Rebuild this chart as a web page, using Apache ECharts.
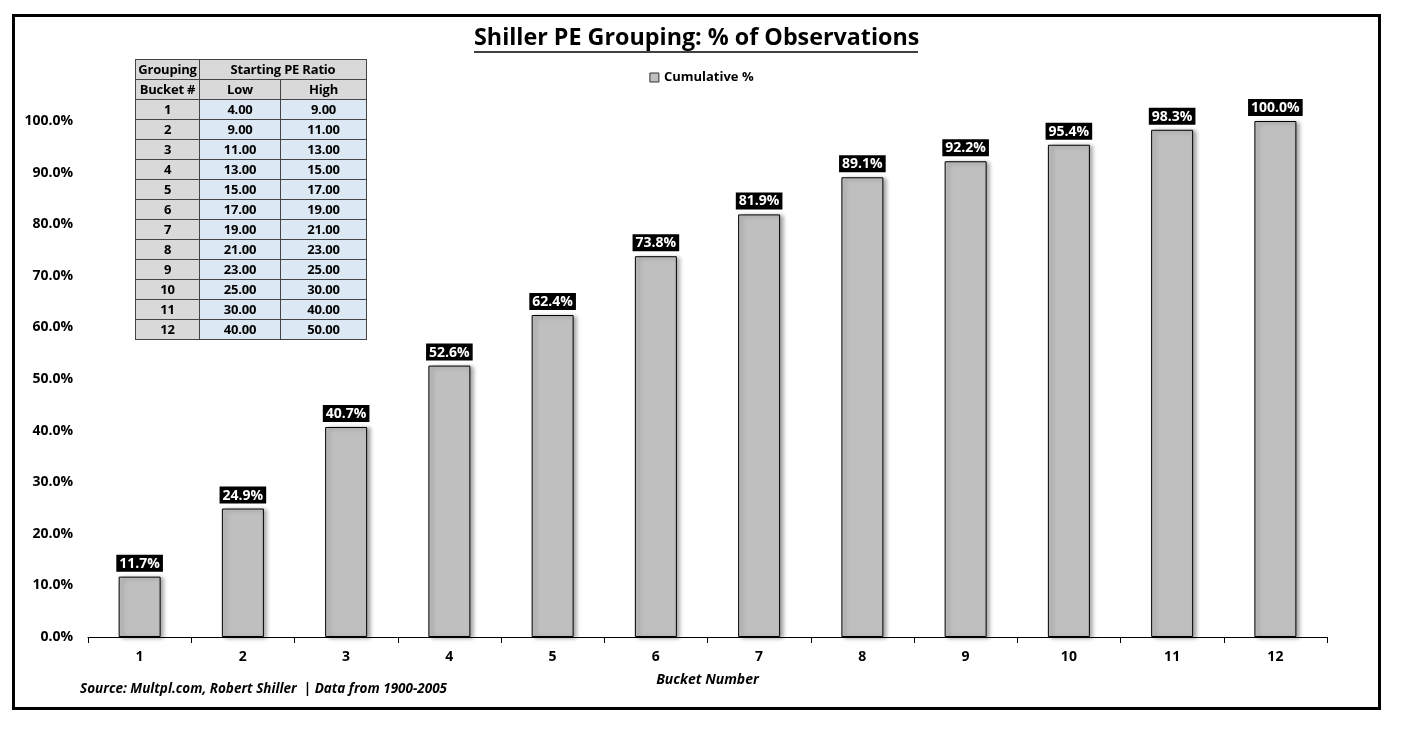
<!DOCTYPE html>
<html><head><meta charset="utf-8">
<script src="https://cdn.jsdelivr.net/npm/echarts@6/dist/echarts.min.js"></script>
<style>
html,body{margin:0;padding:0;background:#fff;}
#frame{position:absolute;left:12px;top:14px;width:1363px;height:690px;border:3px solid #000;}
#chart{position:absolute;left:0;top:0;width:1403px;height:729px;}
#tbl{position:absolute;left:135px;top:59px;border-collapse:collapse;font-family:"Open Sans",sans-serif;font-weight:bold;font-size:13px;color:#000;letter-spacing:-0.2px;}
#tbl td{border:1px solid #444;height:19px;padding:0;text-align:center;line-height:19px;}
#tbl td.g{background:#d9d9d9;}
#tbl td.b{background:#dce9f5;}
</style></head>
<body>
<div id="frame"></div>
<div id="chart"></div>
<table id="tbl"></table>
<script>
const categories = ['1','2','3','4','5','6','7','8','9','10','11','12'];
const cumulative = [11.7, 24.9, 40.7, 52.6, 62.4, 73.8, 81.9, 89.1, 92.2, 95.4, 98.3, 100.0];
const peLow = ['4.00','9.00','11.00','13.00','15.00','17.00','19.00','21.00','23.00','25.00','30.00','40.00'];
const peHigh = ['9.00','11.00','13.00','15.00','17.00','19.00','21.00','23.00','25.00','30.00','40.00','50.00'];
const titleText = 'Shiller PE Grouping: % of Observations';

// table
const tbl = document.getElementById('tbl');
let html = '<tr><td class="g" style="width:63px">Grouping</td><td class="g" colspan="2">Starting PE Ratio</td></tr>';
html += '<tr><td class="g">Bucket #</td><td class="g" style="width:80px">Low</td><td class="g" style="width:85px">High</td></tr>';
for (let i = 0; i < categories.length; i++) {
  html += '<tr><td class="g">' + categories[i] + '</td><td class="b">' + peLow[i] + '</td><td class="b">' + peHigh[i] + '</td></tr>';
}
tbl.innerHTML = html;

const F = '"Open Sans", sans-serif';

const chart = echarts.init(document.getElementById('chart'));
chart.setOption({
  animation: false,
  title: {
    text: titleText,
    left: 474, top: 27,
    padding: 0,
    textStyle: {fontFamily: F, fontWeight: 'bold', fontSize: 23.3, color: '#000'}
  },
  graphic: [
    {type: 'line', shape: {x1: 474, y1: 52, x2: 918, y2: 52}, style: {stroke: '#000', lineWidth: 1.5}},
    {type: 'text', left: 80, top: 682, style: {text: 'Source: Multpl.com, Robert Shiller  | Data from 1900-2005', font: 'italic bold 13.5px "Open Sans", sans-serif', fill: '#000'}}
  ],
  legend: {
    data: [{name: 'Cumulative %', icon: 'rect'}], top: 66, left: 'center',
    itemWidth: 9, itemHeight: 9, itemGap: 4,
    itemStyle: {borderColor: '#333', borderWidth: 1},
    textStyle: {fontFamily: F, fontWeight: 'bold', fontSize: 13, color: '#000'}
  },
  grid: {left: 88, right: 76, top: 121, bottom: 92},
  xAxis: {
    type: 'category', data: categories,
    name: 'Bucket Number', nameLocation: 'middle', nameGap: 36,
    nameTextStyle: {fontFamily: F, fontWeight: 'bold', fontStyle: 'italic', fontSize: 14, color: '#000'},
    axisLine: {lineStyle: {color: '#000', width: 1}},
    axisTick: {show: true, length: 6, lineStyle: {color: '#000'}},
    axisLabel: {fontFamily: F, fontWeight: 'bold', fontSize: 14, color: '#000', margin: 13}
  },
  yAxis: {
    type: 'value', min: 0, max: 100, interval: 10,
    axisLine: {show: false}, axisTick: {show: false}, splitLine: {show: false},
    axisLabel: {fontFamily: F, fontWeight: 'bold', fontSize: 14, color: '#000', margin: 15,
      formatter: v => v.toFixed(1) + '%'}
  },
  series: [{
    name: 'Cumulative %', type: 'bar', data: cumulative, barWidth: 42,
    itemStyle: {color: '#bfbfbf', borderColor: '#000', borderWidth: 1,
      shadowColor: 'rgba(0,0,0,0.35)', shadowBlur: 4, shadowOffsetX: 3, shadowOffsetY: 1},
    label: {show: true, position: 'top', distance: 5,
      formatter: p => p.value.toFixed(1) + '%',
      backgroundColor: '#000', color: '#fff', padding: [2, 3, 1, 3],
      fontFamily: F, fontWeight: 'bold', fontSize: 14}
  }]
});
</script>
</body></html>
